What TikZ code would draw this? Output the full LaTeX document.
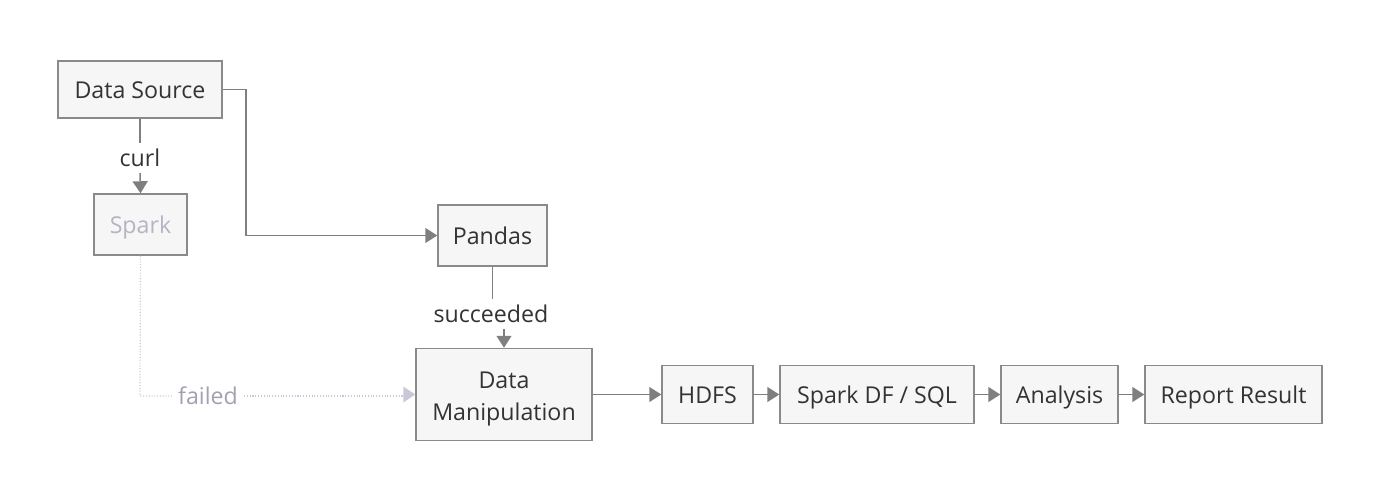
\documentclass[tikz,border=0pt]{standalone}
\usepackage{fontspec}
\setmainfont{Open Sans}
\usetikzlibrary{arrows.meta}

\definecolor{linegray}{HTML}{7F7F7F}
\definecolor{boxgray}{HTML}{8A8A8A}
\definecolor{boxfill}{HTML}{F6F6F6}
\definecolor{textgray}{HTML}{333333}
\definecolor{failline}{HTML}{C9C8D8}
\definecolor{failtext}{HTML}{A2A1B2}

\begin{document}
\begin{tikzpicture}[x=0.02cm, y=-0.02cm,
		font=\fontsize{13.2}{17.6}\selectfont, text=textgray,
		box/.style={draw=boxgray, fill=boxfill, line width=0.85pt, align=center, inner sep=0pt,
			text height=1.05em, text depth=0pt},
		flow/.style={draw=linegray, line width=0.85pt, -{Triangle[length=2.4mm, width=3mm]}},
		plain/.style={draw=linegray, line width=0.85pt},
		fail/.style={draw=failline, line width=0.7pt, dash pattern=on 0.6pt off 1pt}]
		\useasboundingbox (0,0) rectangle (1380,498);

		\node [box, minimum width=32.8mm, minimum height=11.4mm] (source) at (140,89.5) {Data Source};
		\node [box, minimum width=18.6mm, minimum height=12.2mm, text=failtext!80!white] (spark) at (140.5,224.5) {Spark};
		\node [box, minimum width=21.8mm, minimum height=12.2mm] (pandas) at (492.5,235.5) {Pandas};
		\node [box, minimum width=35.2mm, minimum height=18.4mm, text height=33pt, text depth=3.2pt] (manip) at (504,394.5) {Data\\[0.8pt]Manipulation};
		\node [box, minimum width=18.2mm, minimum height=11.6mm] (hdfs) at (707.5,394.5) {HDFS};
		\node [box, minimum width=38.8mm, minimum height=11.6mm] (sparkdf) at (877,394.5) {Spark DF / SQL};
		\node [box, minimum width=23.4mm, minimum height=11.6mm] (analysis) at (1059.5,394.5) {Analysis};
		\node [box, minimum width=35.4mm, minimum height=11.6mm] (report) at (1233.5,394.5) {Report Result};

		\node (curl) at (140,158) {curl};
		\node (succ) at (491,314) {succeeded};
		\node [text=failtext] (failed) at (208,396) {failed};
		\coordinate (bend) at (246,89.5);
		\coordinate (corner) at (140,396);

		\draw [plain] (source.south) -- (curl.north);
		\draw [flow] (curl.south) -- (spark.north);
		\draw [flow] (source.east) -- (bend) |- (pandas.west);
		\draw [plain] (pandas.south) -- (pandas.south |- succ.north);
		\draw [flow] (manip.north |- succ.south) -- (manip.north);

		\draw [fail] (spark.south) -- (corner) -- (failed.west);
		\draw [fail] (failed.east) -- ([xshift=-12*0.2mm]failed.east -| manip.west);
		\fill [failline] (manip.west) -- ++(-12,-8) -- ++(0,16) -- cycle;

		\draw [flow] (manip) -- (hdfs);
		\draw [flow] (hdfs) -- (sparkdf);
		\draw [flow] (sparkdf) -- (analysis);
		\draw [flow] (analysis) -- (report);
	\end{tikzpicture}
\end{document}
